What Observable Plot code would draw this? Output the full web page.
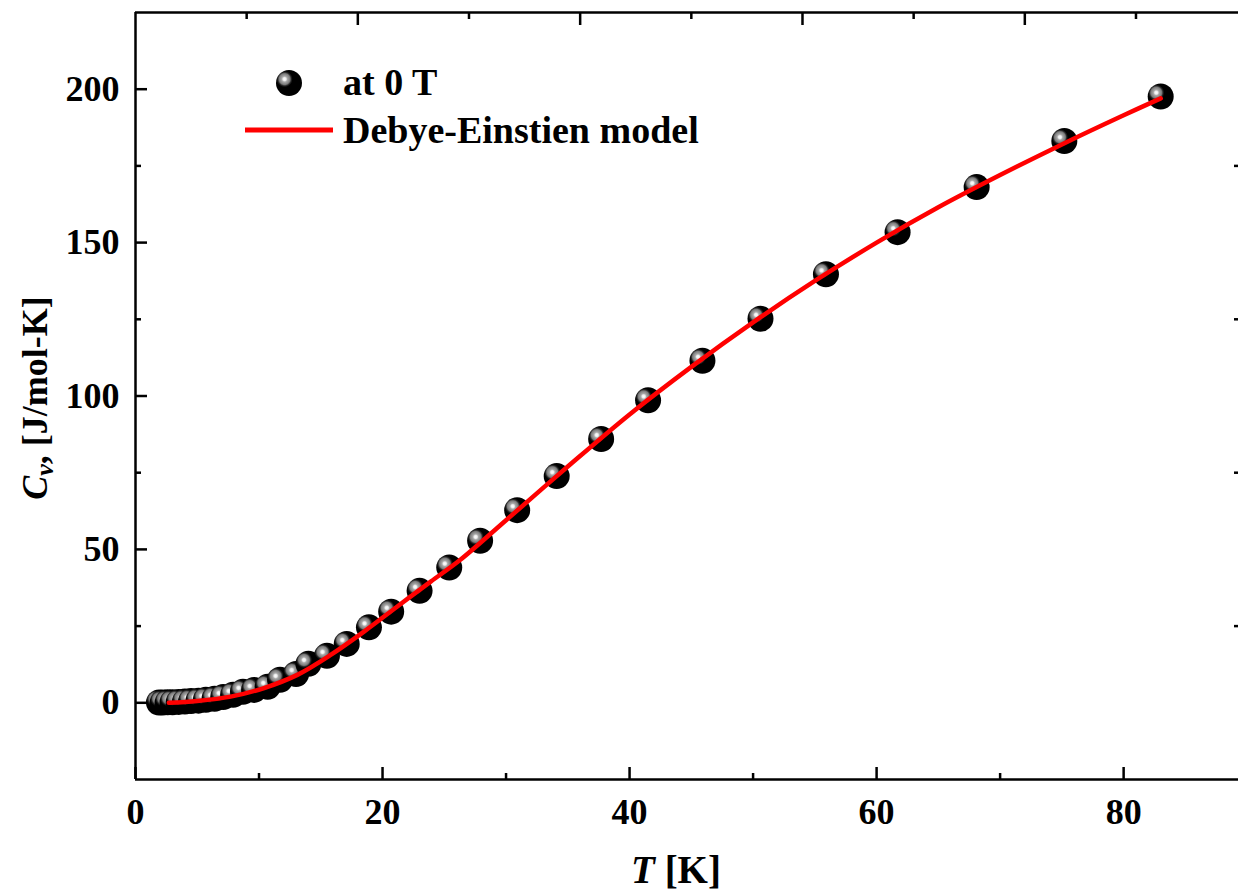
<!DOCTYPE html>
<html>
<head>
<meta charset="utf-8">
<script src="https://cdn.jsdelivr.net/npm/d3@7"></script>
<script src="https://cdn.jsdelivr.net/npm/@observablehq/plot@0.6"></script>
<style>
  html, body { margin: 0; padding: 0; background: #fff; }
</style>
</head>
<body>
<div id="chart"></div>
<script>
// Measured data (T in K, Cv in J/mol-K)
const temps = [1.9, 2.2, 2.6, 3.0, 3.5, 4.0, 4.5, 5.1, 5.7, 6.4, 7.1, 7.9, 8.7, 9.6, 10.7, 11.7, 13.0, 14.0, 15.5, 17.1, 18.9, 20.7, 23.0, 25.4, 27.9, 30.9, 34.1, 37.7, 41.5, 45.9, 50.6, 55.9, 61.7, 68.1, 75.2, 83.0];
const cvs   = [0.1, 0.1, 0.15, 0.2, 0.3, 0.4, 0.55, 0.7, 1.0, 1.3, 1.9, 2.6, 3.6, 4.2, 5.2, 7.5, 9.4, 12.7, 15.3, 19.2, 24.6, 29.7, 36.5, 44.1, 52.8, 62.8, 73.9, 86.0, 98.6, 111.5, 125.2, 139.7, 153.4, 168.1, 183.1, 197.6];

// Debye-Einstein model curve
const fitT  = [2.7, 5, 7.7, 10.4, 13.1, 15.8, 18.5, 21.2, 23.9, 26.3, 30, 35, 40, 45, 50, 55, 60, 65, 70, 75, 80, 83];
const fitC  = [0, 0.6, 2.0, 4.8, 9.1, 15.6, 23.2, 31.4, 39.5, 46.6, 59.5, 77.0, 94.0, 109.5, 124.0, 137.5, 150.0, 161.5, 172.0, 182.0, 191.5, 197];

// Tick values
const xMajor = [0, 20, 40, 60, 80];
const xMinor = [10, 30, 50, 70];
const topMajor = [18, 36, 54, 72];
const topMinor = [9, 27, 45, 63, 81];
const yMajor = [0, 50, 100, 150, 200];
const yMinor = [25, 75, 125, 175];

const seriesLabel = "at 0 T";
const fitLabel = "Debye-Einstien model";

const points = temps.map((t, i) => ({T: t, C: cvs[i]}));
const fit = fitT.map((t, i) => ({T: t, C: fitC[i]}));

const FONT = "'Liberation Serif', 'Times New Roman', serif";
const AX = 2.5;
const chart = Plot.plot({
  width: 1238,
  height: 892,
  marginLeft: 135,
  marginRight: 0,
  marginTop: 12,
  marginBottom: 113,
  style: {fontFamily: FONT, fontWeight: "bold", fontSize: "36px", color: "#000", background: "#fff"},
  x: {domain: [0, 89.3]},
  y: {domain: [-25, 225]},
  marks: [
    // tick marks (inward)
    Plot.axisX(xMajor, {anchor: "bottom", tickSize: -12, tickFormat: () => "", strokeWidth: AX, label: null}),
    Plot.axisX(xMinor, {anchor: "bottom", tickSize: -6, tickFormat: () => "", strokeWidth: AX, label: null}),
    Plot.axisX(topMajor, {anchor: "top", tickSize: -12, tickFormat: () => "", strokeWidth: AX, label: null}),
    Plot.axisX(topMinor, {anchor: "top", tickSize: -6, tickFormat: () => "", strokeWidth: AX, label: null}),
    Plot.axisY(yMajor, {anchor: "left", tickSize: -12, tickFormat: () => "", strokeWidth: AX, label: null}),
    Plot.axisY(yMinor, {anchor: "left", tickSize: -6, tickFormat: () => "", strokeWidth: AX, label: null}),
    Plot.axisY(yMinor, {anchor: "right", tickSize: -5, tickFormat: () => "", strokeWidth: AX, label: null}),
    // tick labels
    Plot.axisX(xMajor, {anchor: "bottom", tickSize: 0, tickPadding: 19, label: null, fontSize: 36}),
    Plot.axisY(yMajor, {anchor: "left", tickSize: 0, tickPadding: 16, label: null, fontSize: 36}),
    // frame lines
    Plot.ruleX([0], {stroke: "#000", strokeWidth: AX}),
    Plot.ruleY([-25], {stroke: "#000", strokeWidth: AX}),
    Plot.ruleY([225], {stroke: "#000", strokeWidth: AX}),
    // data
    Plot.dot(points, {x: "T", y: "C", r: 13, fill: "url(#ball)", stroke: null}),
    Plot.line(fit, {x: "T", y: "C", stroke: "#ff0000", strokeWidth: 4.5, curve: "catmull-rom"})
  ]
});

const svg = d3.select(chart);
svg.insert("defs", ":first-child").html(
  `<radialGradient id="ball" cx="0.33" cy="0.35" fx="0.33" fy="0.35" r="0.5">
     <stop offset="0" stop-color="#ffffff"/>
     <stop offset="0.12" stop-color="#eeeeee"/>
     <stop offset="0.22" stop-color="#a8a8a8"/>
     <stop offset="0.42" stop-color="#7a7a7a"/>
     <stop offset="0.52" stop-color="#262626"/>
     <stop offset="0.62" stop-color="#000000"/>
     <stop offset="1" stop-color="#000000"/>
   </radialGradient>`
);

// Legend
const lg = svg.append("g").attr("font-family", FONT).attr("font-weight", "bold").attr("font-size", 38).attr("text-anchor", "start");
lg.append("circle").attr("cx", 289).attr("cy", 83).attr("r", 13).attr("fill", "url(#ball)");
lg.append("text").attr("x", 343).attr("y", 95).attr("text-anchor", "start").text(seriesLabel);
lg.append("line").attr("x1", 245).attr("x2", 333).attr("y1", 130).attr("y2", 130).attr("stroke", "#ff0000").attr("stroke-width", 5);
lg.append("text").attr("x", 343).attr("y", 143).attr("text-anchor", "start").text(fitLabel);

// Axis titles
const xt = svg.append("text").attr("x", 676).attr("y", 883).attr("text-anchor", "middle")
  .attr("font-family", FONT).attr("font-weight", "bold").attr("font-size", 39);
xt.append("tspan").attr("font-style", "italic").text("T");
xt.append("tspan").text(" [K]");

const yt = svg.append("text").attr("transform", "translate(47,398) rotate(-90)").attr("text-anchor", "middle")
  .attr("font-family", FONT).attr("font-weight", "bold").attr("font-size", 36);
yt.append("tspan").attr("font-style", "italic").text("C");
yt.append("tspan").attr("font-style", "italic").attr("font-size", 26).attr("dy", 6).text("v");
yt.append("tspan").attr("dy", -6).text(", [J/mol-K]");

document.getElementById("chart").appendChild(chart);
</script>
</body>
</html>
